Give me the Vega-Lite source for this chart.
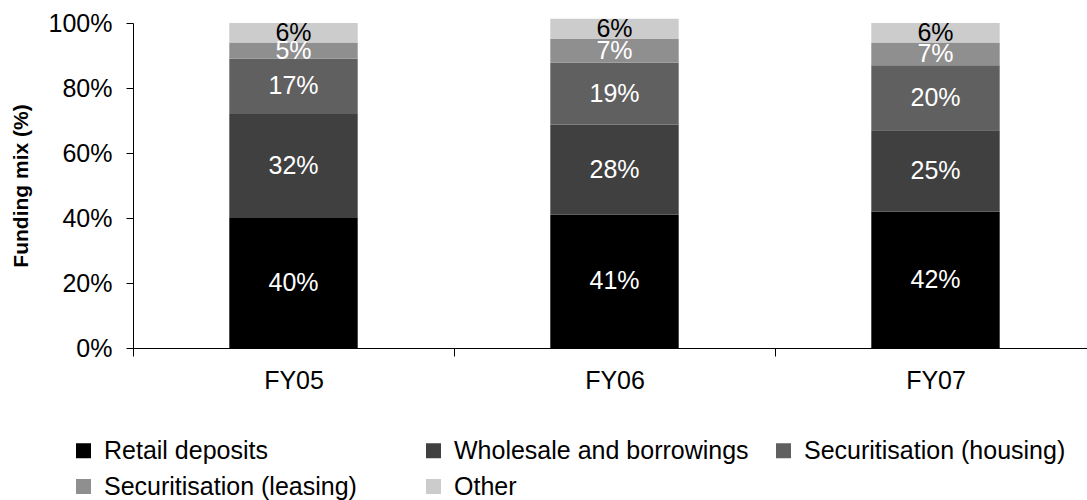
{
  "$schema": "https://vega.github.io/schema/vega-lite/v6.json",
  "width": 954,
  "height": 325,
  "autosize": "none",
  "padding": {"left": 133, "top": 23, "right": 0, "bottom": 152},
  "background": "white",
  "config": {"view": {"stroke": null}, "font": "Liberation Sans"},
  "data": {
    "values": [
      {"fy": "FY05", "source": "Retail deposits", "order": 1, "value": 0.40},
      {"fy": "FY05", "source": "Wholesale and borrowings", "order": 2, "value": 0.32},
      {"fy": "FY05", "source": "Securitisation (housing)", "order": 3, "value": 0.17},
      {"fy": "FY05", "source": "Securitisation (leasing)", "order": 4, "value": 0.05},
      {"fy": "FY05", "source": "Other", "order": 5, "value": 0.06},
      {"fy": "FY06", "source": "Retail deposits", "order": 1, "value": 0.41},
      {"fy": "FY06", "source": "Wholesale and borrowings", "order": 2, "value": 0.278},
      {"fy": "FY06", "source": "Securitisation (housing)", "order": 3, "value": 0.19},
      {"fy": "FY06", "source": "Securitisation (leasing)", "order": 4, "value": 0.073},
      {"fy": "FY06", "source": "Other", "order": 5, "value": 0.062},
      {"fy": "FY07", "source": "Retail deposits", "order": 1, "value": 0.42},
      {"fy": "FY07", "source": "Wholesale and borrowings", "order": 2, "value": 0.25},
      {"fy": "FY07", "source": "Securitisation (housing)", "order": 3, "value": 0.20},
      {"fy": "FY07", "source": "Securitisation (leasing)", "order": 4, "value": 0.07},
      {"fy": "FY07", "source": "Other", "order": 5, "value": 0.06}
    ]
  },
  "encoding": {
    "x": {
      "field": "fy",
      "type": "nominal",
      "scale": {"range": [0, 963], "paddingInner": 0, "paddingOuter": 0},
      "axis": {
        "title": null,
        "labelAngle": 0,
        "labelFontSize": 25,
        "labelColor": "#000000",
        "labelPadding": 12,
        "tickBand": "extent",
        "tickSize": 8,
        "tickColor": "#000000",
        "domainColor": "#000000",
        "grid": false
      }
    }
  },
  "layer": [
    {
      "mark": {"type": "bar", "width": {"band": 0.4}},
      "encoding": {
        "y": {
          "field": "value",
          "type": "quantitative",
          "stack": "zero",
          "scale": {"domain": [0, 1], "nice": false},
          "axis": {
            "format": ".0%",
            "values": [0, 0.2, 0.4, 0.6, 0.8, 1],
            "grid": false,
            "tickSize": 7,
            "tickColor": "#000000",
            "domainColor": "#000000",
            "labelPadding": 14,
            "labelFontSize": 25,
            "labelColor": "#000000",
            "title": "Funding mix (%)",
            "titleFontSize": 21,
            "titleFontWeight": "bold",
            "titleColor": "#000000",
            "titlePadding": 17
          }
        },
        "color": {
          "field": "source",
          "type": "nominal",
          "scale": {
            "domain": ["Retail deposits", "Wholesale and borrowings", "Securitisation (housing)", "Securitisation (leasing)", "Other"],
            "range": ["#000000", "#404040", "#606060", "#8f8f8f", "#cccccc"]
          },
          "legend": {
            "orient": "none",
            "direction": "horizontal",
            "legendX": -62,
            "legendY": 415,
            "title": null,
            "columns": 3,
            "gridAlign": "all",
            "symbolType": "square",
            "symbolSize": 225,
            "symbolStrokeWidth": 0,
            "labelFontSize": 25,
            "labelColor": "#000000",
            "labelLimit": 400,
            "labelOffset": 8,
            "columnPadding": 22,
            "rowPadding": 10
          }
        },
        "order": {"field": "order", "type": "quantitative"}
      }
    },
    {
      "mark": {"type": "text", "fontSize": 25, "baseline": "middle", "align": "center"},
      "encoding": {
        "y": {"field": "value", "type": "quantitative", "stack": "zero", "bandPosition": 0.5},
        "detail": {"field": "source"},
        "order": {"field": "order", "type": "quantitative"},
        "text": {"field": "value", "type": "quantitative", "format": ".0%"},
        "color": {
          "condition": {"test": "datum.source === 'Other'", "value": "#000000"},
          "value": "#ffffff"
        }
      }
    }
  ]
}
